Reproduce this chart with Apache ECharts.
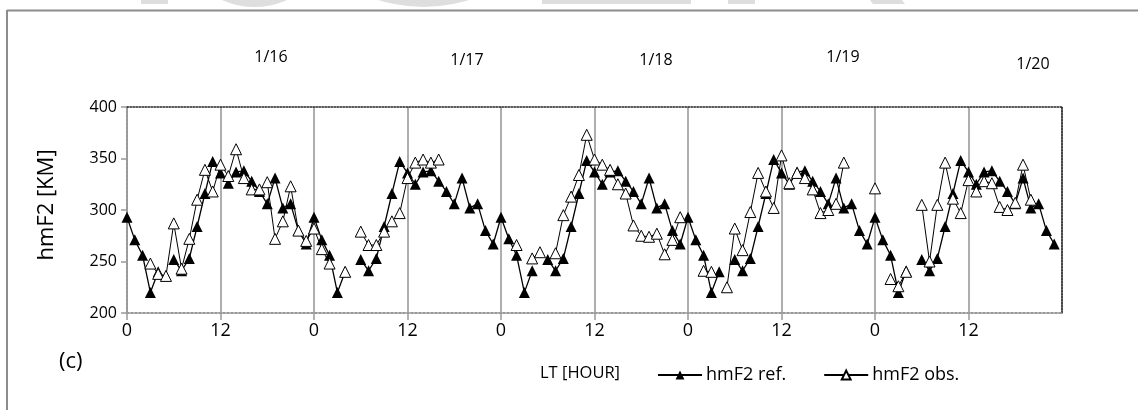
<!DOCTYPE html>
<html>
<head>
<meta charset="utf-8">
<script src="https://cdn.jsdelivr.net/npm/echarts@6/dist/echarts.min.js"></script>
<style>
  html, body { margin: 0; padding: 0; background: #fff; }
  #chart { width: 1138px; height: 410px; }
</style>
</head>
<body>
<div id="chart"></div>
<script>
// dates shown above each day
const dayLabels = ['1/16', '1/17', '1/18', '1/19', '1/20'];
const dayLabelPos = [[271, 57], [467, 60], [656, 60], [843, 57], [1033, 64]];

// hourly hmF2 (km), one line per day, null = no value
const refHmF2 = [
  293, 271, 256, 220, 240, null, 252, 241, 253, 284, 316, 347, 336, 326, 337, 338, 328, 318, 306, 331, 302, 306, 280, 267,
  293, 271, 256, 220, 240, null, 252, 241, 253, 284, 316, 347, 336, 325, 337, 338, 328, 318, 306, 331, 302, 306, 280, 267,
  293, 272, 256, 220, 241, null, 252, 241, 253, 284, 316, 348, 337, 325, 337, 338, 328, 318, 306, 331, 302, 306, 280, 267,
  293, 271, 256, 220, 240, null, 252, 241, 253, 284, 316, 349, 336, 325, 337, 338, 328, 318, 306, 331, 302, 306, 280, 267,
  293, 271, 256, 220, 241, null, 252, 241, 253, 284, 316, 348, 337, 325, 337, 338, 328, 318, 306, 331, 302, 306, 280, 267
];
const obsHmF2 = [
  null, null, null, 248, 238, 236, 287, 243, 272, 310, 339, 318, 344, 333, 359, 331, 320, 320, 327, 272, 289, 323, 280, 270,
  282, 262, 248, null, 240, null, 279, 266, 266, 279, 289, 297, 331, 346, 349, 346, 349, null, null, null, null, null, null, null,
  null, null, 266, null, 253, 259, null, 258, 295, 313, 334, 373, 349, 344, 339, 325, 316, 285, 275, 274, 277, 257, 271, 293,
  null, null, 241, 240, null, 225, 282, 261, 298, 336, 318, 302, 353, 326, 336, 331, 320, 297, 300, 306, 346, null, null, null,
  321, null, 233, 226, 240, null, 305, 250, 305, 346, 311, 297, 329, 318, 328, 326, 303, 300, 307, 344, 310, null, null, null
];

const FONT = '"Open Sans", "Noto Sans", sans-serif';

const toPoints = arr => arr.map((v, h) => [h, v]);

const chart = echarts.init(document.getElementById('chart'));

const dayTexts = dayLabels.map((t, i) => ({
  type: 'text',
  x: dayLabelPos[i][0],
  y: dayLabelPos[i][1],
  style: { text: t, font: '16px ' + FONT, fill: '#000', align: 'center', verticalAlign: 'middle' }
}));

chart.setOption({
  animation: false,
  backgroundColor: '#fff',
  grid: { left: 127, top: 107, width: 935, height: 206 },
  xAxis: [{
    type: 'value',
    min: 0,
    max: 120,
    interval: 12,
    axisLine: { lineStyle: { color: '#999', type: 'dotted', width: 2 } },
    axisTick: { show: true, length: 7, lineStyle: { color: '#999', width: 1.5 } },
    axisLabel: {
      color: '#000', fontSize: 18, fontFamily: FONT, margin: 9,
      showMaxLabel: false,
      formatter: v => (v % 24 === 0 ? '0' : '12')
    },
    splitLine: { show: true, lineStyle: { color: '#9a9a9a', width: 1.6 } }
  }, {
    type: 'value', position: 'top', min: 0, max: 120,
    axisLine: { show: true, onZero: false, lineStyle: { color: '#222', type: 'dotted', width: 1.5 } },
    axisTick: { show: false }, axisLabel: { show: false }, splitLine: { show: false }
  }],
  yAxis: [{
    type: 'value',
    min: 200,
    max: 400,
    interval: 50,
    axisLine: { show: true, lineStyle: { color: '#999', type: 'dotted', width: 2 } },
    axisTick: { show: true, length: 6, lineStyle: { color: '#999', width: 1.5 } },
    axisLabel: { color: '#000', fontSize: 16, fontFamily: FONT, margin: 10 },
    splitLine: { show: false },
    name: 'hmF2 [KM]',
    nameLocation: 'middle',
    nameGap: 69,
    nameTextStyle: { color: '#000', fontSize: 22, fontFamily: FONT, padding: [0, 0, 0, 10] }
  }, {
    type: 'value', position: 'right', min: 200, max: 400,
    axisLine: { show: true, onZero: false, lineStyle: { color: '#222', type: 'dotted', width: 1.5 } },
    axisTick: { show: false }, axisLabel: { show: false }, splitLine: { show: false }
  }],
  legend: {
    left: 652,
    top: 361,
    itemWidth: 44,
    itemHeight: 11,
    itemGap: 37,
    textStyle: { color: '#000', fontSize: 18, fontFamily: FONT, padding: [0, 0, 0, -1] },
    data: ['hmF2 ref.', 'hmF2 obs.']
  },
  graphic: [
    { type: 'line', shape: { x1: 7, y1: 10.5, x2: 1138, y2: 10.5 }, style: { stroke: '#8c8c8c', lineWidth: 2 } },
    { type: 'line', shape: { x1: 7, y1: 10, x2: 7, y2: 410 }, style: { stroke: '#8c8c8c', lineWidth: 2 } },
    { type: 'rect', shape: { x: 141, y: 0, width: 27, height: 4 }, style: { fill: '#dedede' } },
    { type: 'circle', shape: { cx: 254.5, cy: -72, r: 79 }, style: { fill: '#dedede' } },
    { type: 'circle', shape: { cx: 423.5, cy: -144, r: 151 }, style: { fill: '#dedede' } },
    { type: 'rect', shape: { x: 542, y: 0, width: 149, height: 4 }, style: { fill: '#dedede' } },
    { type: 'rect', shape: { x: 728, y: 0, width: 27, height: 4 }, style: { fill: '#dedede' } },
    { type: 'polygon', shape: { points: [[870, 0], [902, 0], [905, 4], [873, 4]] }, style: { fill: '#dedede' } },
    { type: 'text', x: 540, y: 373, style: { text: 'LT [HOUR]', font: '16.5px ' + FONT, fill: '#000', verticalAlign: 'middle' } },
    { type: 'text', x: 59, y: 362, style: { text: '(c)', font: '22px ' + FONT, fill: '#000', verticalAlign: 'middle' } }
  ].concat(dayTexts),
  series: [{
    name: 'hmF2 ref.',
    type: 'line',
    data: toPoints(refHmF2),
    symbol: 'triangle',
    symbolSize: 11,
    itemStyle: { color: '#000' },
    lineStyle: { color: '#000', width: 1.3 },
    z: 3
  }, {
    name: 'hmF2 obs.',
    type: 'line',
    data: toPoints(obsHmF2),
    symbol: 'triangle',
    symbolSize: 11,
    itemStyle: { color: '#fff', borderColor: '#000', borderWidth: 1 },
    lineStyle: { color: '#000', width: 1 },
    z: 4
  }]
});
</script>
</body>
</html>
